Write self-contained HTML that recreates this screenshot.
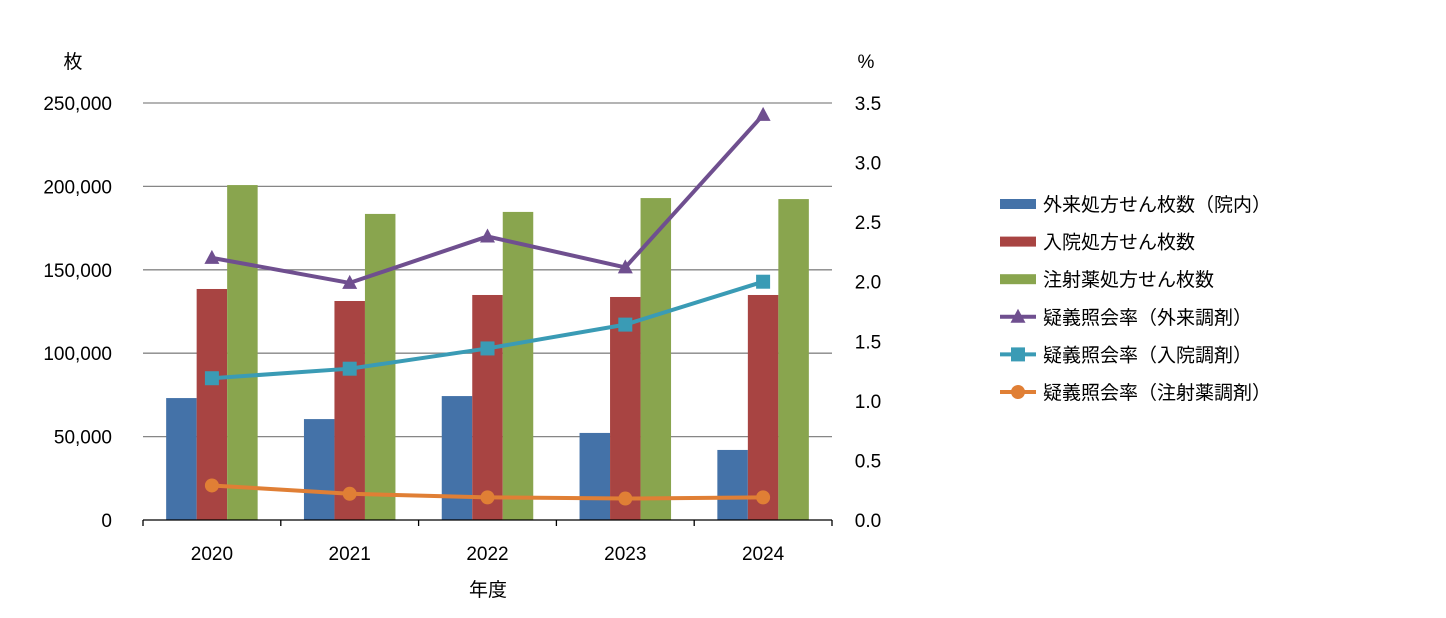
<!DOCTYPE html>
<html><head><meta charset="utf-8">
<style>
body{margin:0;background:#fff;}
svg text{font-family:"Liberation Sans","Noto Sans CJK JP",sans-serif;fill:#000;}
</style></head>
<body>
<svg id="chart" width="1446" height="613" xmlns="http://www.w3.org/2000/svg"></svg>
<script>
const categories=["2020","2021","2022","2023","2024"];
const outpatientSheets=[73100,60500,74300,52200,42000];
const inpatientSheets=[138500,131300,134900,133700,134900];
const injectionSheets=[200800,183500,184700,193000,192400];
const rateOutpatient=[2.20,1.99,2.38,2.12,3.40];
const rateInpatient=[1.19,1.27,1.44,1.64,2.00];
const rateInjection=[0.29,0.22,0.19,0.18,0.19];
const leftTicks=[0,50000,100000,150000,200000,250000];
const leftTickLabels=["0","50,000","100,000","150,000","200,000","250,000"];
const rightTicks=[0,0.5,1.0,1.5,2.0,2.5,3.0,3.5];
const rightTickLabels=["0.0","0.5","1.0","1.5","2.0","2.5","3.0","3.5"];
const legendLabels=["外来処方せん枚数（院内）","入院処方せん枚数","注射薬処方せん枚数","疑義照会率（外来調剤）","疑義照会率（入院調剤）","疑義照会率（注射薬調剤）"];

const svg=document.getElementById('chart');
const NS="http://www.w3.org/2000/svg";
const X0=143,X1=832,Y0=520,Y1=103;
const yL=v=>Y0-(v/250000)*(Y0-Y1);
const yR=v=>Y0-(v/3.5)*(Y0-Y1);
const band=(X1-X0)/categories.length;
const xC=i=>X0+band*(i+0.5);
function mk(tag,attrs,parent){const e=document.createElementNS(NS,tag);for(const k in attrs)e.setAttribute(k,attrs[k]);(parent||svg).appendChild(e);return e;}
function txt(s,attrs){const t=mk('text',attrs);t.textContent=s;return t;}

leftTicks.forEach((v,i)=>{
  if(v>0){const g=mk('line',{x1:X0,x2:X1,y1:yL(v),y2:yL(v),stroke:'#868686','stroke-width':1.3});
  
  }
  const t=txt(leftTickLabels[i],{x:112,y:yL(v)+7,'font-size':19,'text-anchor':'end'});
  
  
});
rightTicks.forEach((v,i)=>{
  const t=txt(rightTickLabels[i],{x:868,y:yR(v)+7,'font-size':19,'text-anchor':'middle'});
  
  
});
const bw=30.5;
const barSeries=[[outpatientSheets,'#4472a8','bar-outpatient'],[inpatientSheets,'#a84442','bar-inpatient'],[injectionSheets,'#89a54e','bar-injection']];
categories.forEach((c,i)=>{
  barSeries.forEach((s,j)=>{
    const x=xC(i)-1.5*bw+j*bw;
    const r=mk('rect',{x:x,y:yL(s[0][i]),width:bw,height:Y0-yL(s[0][i]),fill:s[1]});
    
    
  });
  const t=txt(c,{x:xC(i),y:560,'font-size':19,'text-anchor':'middle'});
  
  
});
const ax=mk('line',{x1:X0,x2:X1,y1:Y0,y2:Y0,stroke:'#000','stroke-width':1.3});


for(let i=0;i<=categories.length;i++){
  const tk=mk('line',{x1:X0+band*i,x2:X0+band*i,y1:Y0,y2:Y0+6,stroke:'#000','stroke-width':1.3});
  
  
}
const lineSeries=[[rateOutpatient,'#6f4f8f','tri','line-outpatient-rate'],[rateInpatient,'#3a9bb5','sq','line-inpatient-rate'],[rateInjection,'#e07f35','circ','line-injection-rate']];
function marker(type,x,y,color,name){
  let m;
  if(type==='tri')m=mk('polygon',{points:`${x},${y-8} ${x-7.5},${y+6} ${x+7.5},${y+6}`,fill:color});
  else if(type==='sq')m=mk('rect',{x:x-7,y:y-7,width:14,height:14,fill:color});
  else m=mk('circle',{cx:x,cy:y,r:7,fill:color});
  
  
}
lineSeries.forEach(s=>{
  const pts=s[0].map((v,i)=>xC(i)+','+yR(v)).join(' ');
  const p=mk('polyline',{points:pts,fill:'none',stroke:s[1],'stroke-width':4,'stroke-linejoin':'round'});
  
  
  s[0].forEach((v,i)=>marker(s[2],xC(i),yR(v),s[1],s[3]+'-marker'));
});
let t=txt('枚',{x:73,y:68,'font-size':19,'text-anchor':'middle'});


t=txt('%',{x:866,y:68,'font-size':19,'text-anchor':'middle'});


t=txt('年度',{x:488,y:596,'font-size':19,'text-anchor':'middle'});


const colors=['#4472a8','#a84442','#89a54e','#6f4f8f','#3a9bb5','#e07f35'];
const types=['bar','bar','bar','tri','sq','circ'];
legendLabels.forEach((l,i)=>{
  const y=204+i*37.6;
  if(types[i]==='bar'){
    const r=mk('rect',{x:1000,y:y-5,width:36,height:10,fill:colors[i]});
    
    
  } else {
    const ln=mk('line',{x1:1000,x2:1036,y1:y,y2:y,stroke:colors[i],'stroke-width':4});
    
    
    marker(types[i],1018,y,colors[i],'legend-marker');
  }
  const tt=txt(l,{x:1043,y:y+7,'font-size':19});
  
  
});
</script>
</body></html>
